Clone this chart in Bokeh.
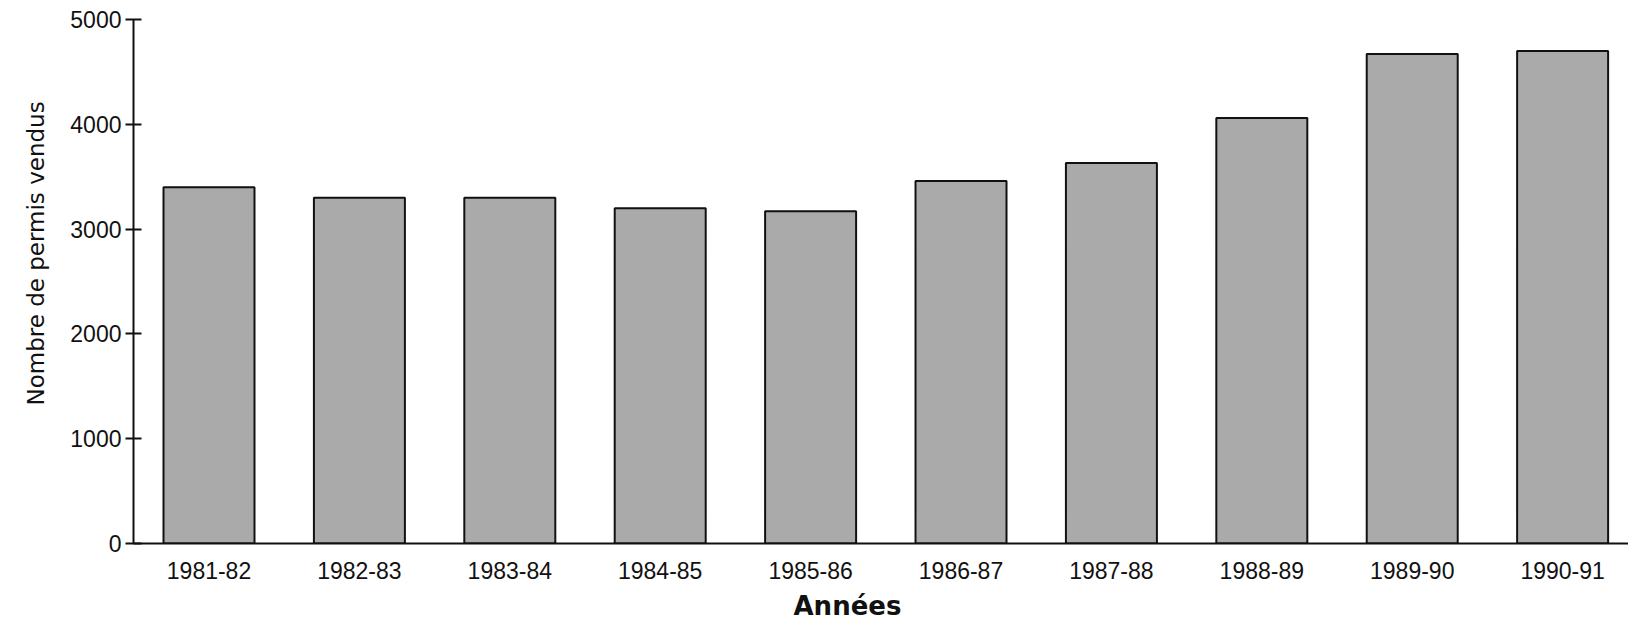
import numpy as np
from bokeh.plotting import figure
from bokeh.models import Range1d, FixedTicker, ColumnDataSource, Title
from bokeh.embed import file_html
from bokeh.resources import INLINE

years = ["1981-82", "1982-83", "1983-84", "1984-85", "1985-86",
         "1986-87", "1987-88", "1988-89", "1989-90", "1990-91"]
permits = [3400, 3300, 3300, 3200, 3170, 3460, 3630, 4060, 4670, 4700]
y_ticks = [0, 1000, 2000, 3000, 4000, 5000]

pos = list(range(len(years)))
src = ColumnDataSource(dict(x=pos, top=permits, label=years))

p = figure(width=1628, height=630, output_backend="svg", toolbar_location=None,
           x_range=Range1d(-0.502, 9.438), y_range=Range1d(0, 5000),
           min_border_left=133, min_border_right=0, min_border_top=19,
           min_border_bottom=87)

p.vbar(x="x", top="top", bottom=0, width=0.605, source=src,
       fill_color="#aaaaaa", line_color="#111111", line_width=2)

p.outline_line_color = None
p.xgrid.visible = False
p.ygrid.visible = False
p.background_fill_color = "white"
p.border_fill_color = "white"

# x axis
p.xaxis.ticker = FixedTicker(ticks=pos)
p.xaxis.major_label_overrides = {i: s for i, s in zip(pos, years)}
p.xaxis.major_tick_line_color = None
p.xaxis.minor_tick_line_color = None
p.xaxis.axis_line_color = "#111111"
p.xaxis.axis_line_width = 2
p.xaxis.major_label_text_font = "Liberation Sans"
p.xaxis.major_label_text_font_size = "23px"
p.xaxis.major_label_text_color = "#111111"
p.xaxis.major_label_standoff = 12

# y axis
p.yaxis.ticker = FixedTicker(ticks=y_ticks)
p.yaxis.minor_tick_line_color = None
p.yaxis.major_tick_in = 8
p.yaxis.major_tick_out = 8
p.yaxis.major_tick_line_width = 2
p.yaxis.major_tick_line_color = "#111111"
p.yaxis.axis_line_color = "#111111"
p.yaxis.axis_line_width = 2
p.yaxis.major_label_text_font = "Liberation Sans"
p.yaxis.major_label_text_font_size = "23px"
p.yaxis.major_label_text_color = "#111111"
p.yaxis.major_label_standoff = 4

# axis titles as side titles (allow an offset along the axis)
ytitle = Title(text="Nombre de permis vendus", align="left", offset=138,
               text_font="DejaVu Sans", text_font_size="23px",
               text_font_style="normal", text_color="#111111", standoff=37)
xtitle = Title(text="Années", align="left", offset=660,
               text_font="DejaVu Sans", text_font_style="bold",
               text_font_size="26px", text_color="#111111", standoff=14)
p.add_layout(ytitle, "left")
p.add_layout(xtitle, "below")

open("out.html", "w").write(file_html(p, INLINE))
